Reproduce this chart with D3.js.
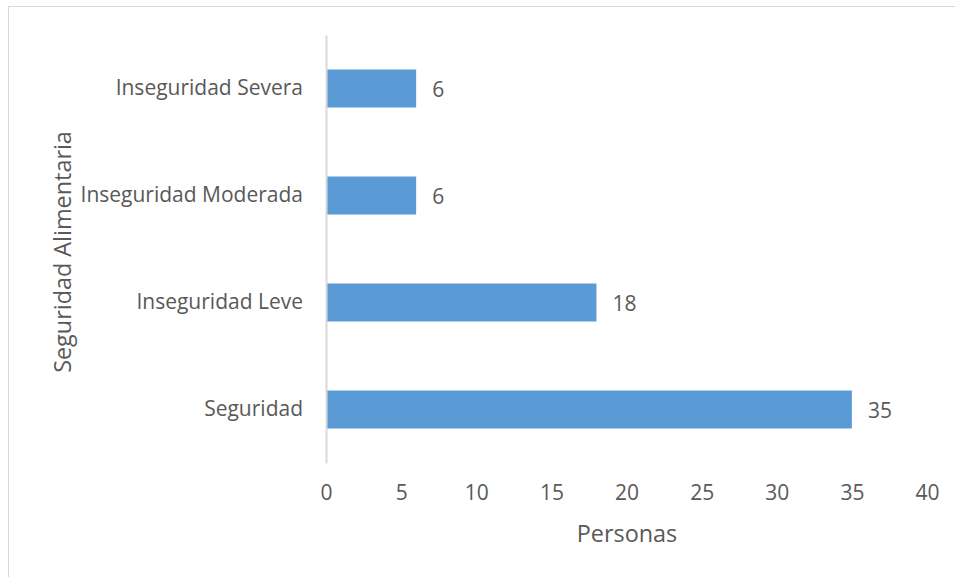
<!DOCTYPE html>
<html>
<head>
<meta charset="utf-8">
<script src="https://cdn.jsdelivr.net/npm/d3@7"></script>
<style>
  body { margin: 0; background: #fff; }
  text { font-family: "Open Sans", sans-serif; fill: #595959; }
</style>
</head>
<body>
<div id="main"></div>
<script>
var categories = ['Seguridad', 'Inseguridad Leve', 'Inseguridad Moderada', 'Inseguridad Severa'];
var personas = [35, 18, 6, 6];
var xTicks = [0, 5, 10, 15, 20, 25, 30, 35, 40];

var data = categories.map(function(c, i) {
  return { cat: c, value: personas[i] };
});

var width = 955, height = 577;
var plotLeft = 326, plotRight = 927, plotTop = 35, plotBottom = 463;

var svg = d3.select('#main')
  .append('svg')
  .attr('width', width)
  .attr('height', height);

// chart border
svg.append('rect')
  .attr('x', 8.5)
  .attr('y', 6.5)
  .attr('width', 960)
  .attr('height', 600)
  .attr('fill', 'none')
  .attr('stroke', '#d9d9d9');

var x = d3.scaleLinear().domain([0, 40]).range([plotLeft, plotRight]);
var y = d3.scaleBand()
  .domain(categories.slice().reverse())
  .range([plotTop, plotBottom])
  .paddingInner(0.645)
  .paddingOuter(0.3225);

svg.selectAll('rect.bar')
  .data(data)
  .enter()
  .append('rect')
  .attr('class', 'bar')
  .attr('x', x(0))
  .attr('y', function(d) { return y(d.cat); })
  .attr('width', function(d) { return x(d.value) - x(0); })
  .attr('height', y.bandwidth())
  .attr('fill', '#5b9bd5');

// value labels
svg.selectAll('text.val')
  .data(data)
  .enter()
  .append('text')
  .attr('class', 'val')
  .attr('x', function(d) { return x(d.value) + 16; })
  .attr('y', function(d) { return y(d.cat) + y.bandwidth() / 2 + 1; })
  .attr('dy', '0.35em')
  .style('font-size', '21px')
  .text(function(d) { return d.value; });

// y axis
var yAxis = svg.append('g')
  .attr('transform', 'translate(' + plotLeft + ',0)')
  .call(d3.axisLeft(y).tickSize(0).tickPadding(23));
yAxis.select('.domain').attr('stroke', '#d9d9d9').attr('stroke-width', 2);
yAxis.selectAll('text')
  .style('font-size', '21px')
  .style('font-family', '"Open Sans", sans-serif')
  .attr('fill', '#595959');

// x axis (labels only)
var xAxis = svg.append('g')
  .attr('transform', 'translate(0,' + plotBottom + ')')
  .call(d3.axisBottom(x).tickValues(xTicks).tickSize(0).tickPadding(22));
xAxis.select('.domain').remove();
xAxis.selectAll('text')
  .style('font-size', '21px')
  .style('font-family', '"Open Sans", sans-serif')
  .attr('fill', '#595959');

svg.append('text')
  .attr('x', 627)
  .attr('y', 542)
  .attr('text-anchor', 'middle')
  .style('font-size', '23.4px')
  .text('Personas');

svg.append('text')
  .attr('transform', 'translate(71,252) rotate(-90)')
  .attr('text-anchor', 'middle')
  .style('font-size', '23.4px')
  .text('Seguridad Alimentaria');
</script>
</body>
</html>
